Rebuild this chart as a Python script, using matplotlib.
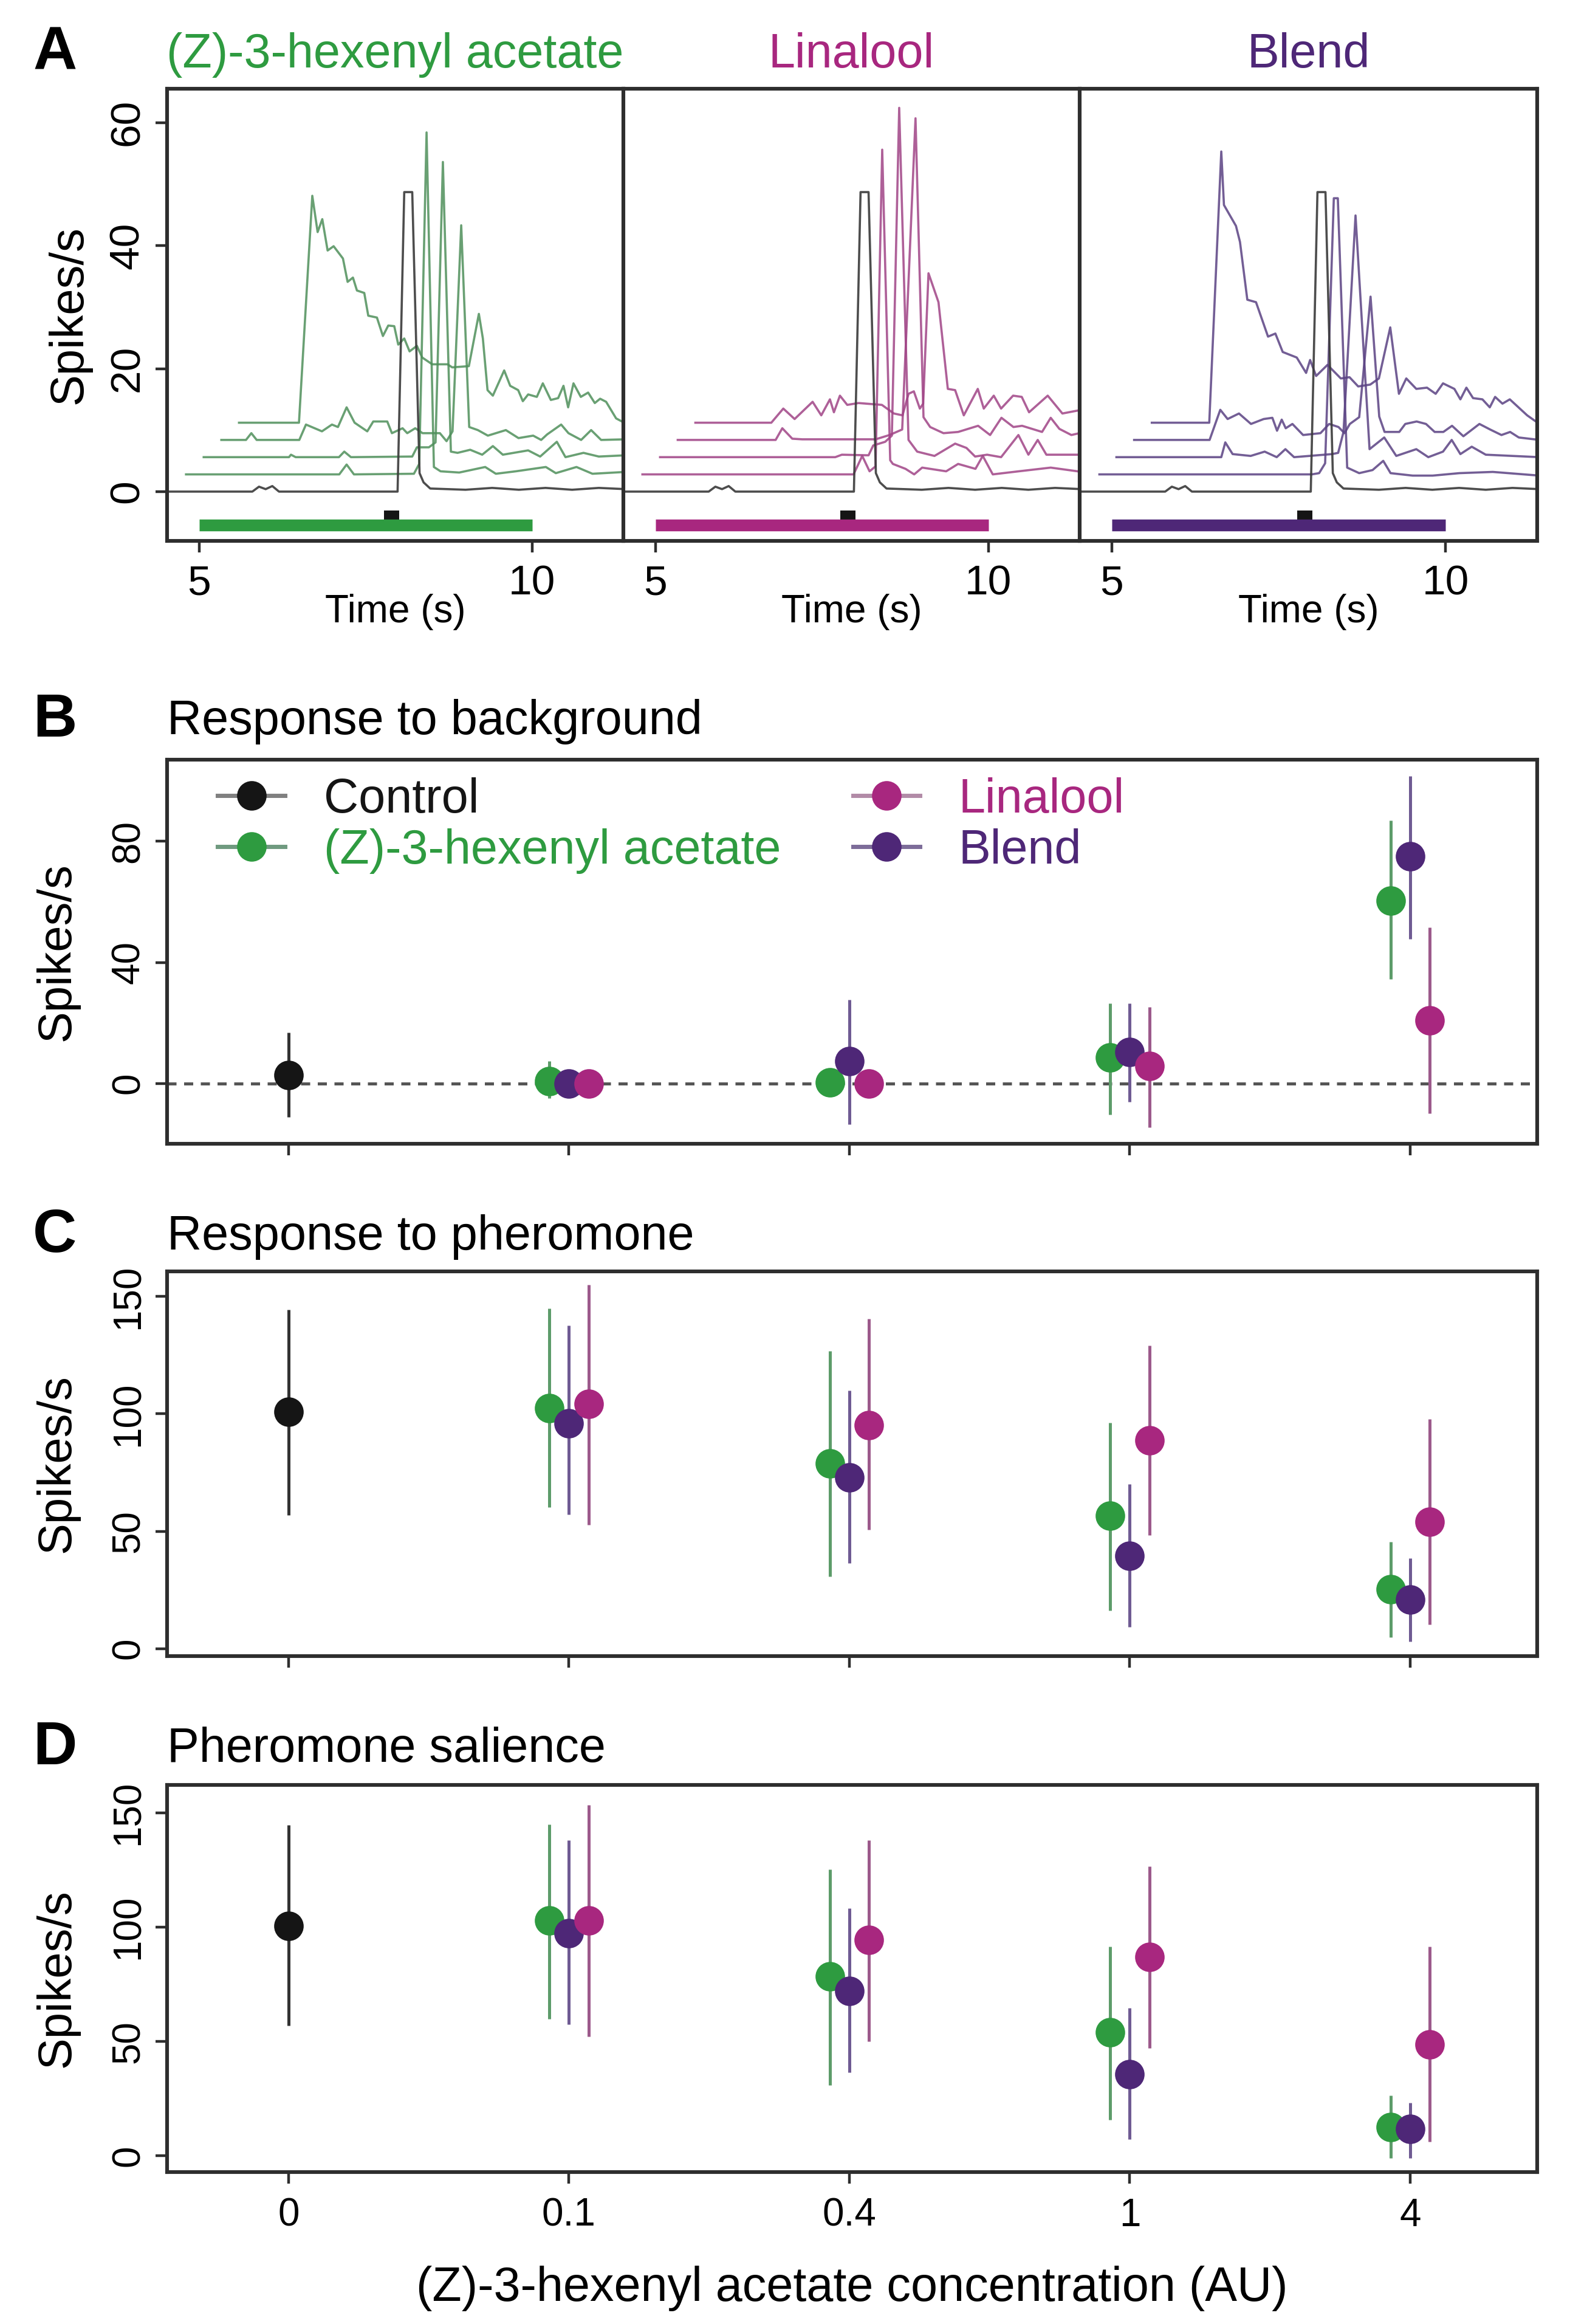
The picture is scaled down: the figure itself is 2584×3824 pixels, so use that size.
import numpy as np
import matplotlib
matplotlib.use('Agg')
import matplotlib.pyplot as plt
from matplotlib import font_manager
from matplotlib.lines import Line2D
from matplotlib.patches import Rectangle

plt.rcParams['font.family'] = ['Liberation Sans', 'DejaVu Sans']

# narrow face for the tick numbers, if one is installed
_names = {f.name for f in font_manager.fontManager.ttflist}
TICK_FONT = 'Liberation Sans'
for cand in ['Liberation Sans Narrow', 'DejaVu Sans Condensed']:
    if cand in _names:
        TICK_FONT = cand
        break

# ---- panel A: firing-rate traces (raw time in s, raw rate in spikes/s) ----
# control (pheromone only) trace, same in every sub-panel
ctrl_t = [4.50, 5.80, 5.90, 6.00, 6.10, 6.20, 7.98, 8.08, 8.20, 8.31, 8.37, 8.47, 9.00, 9.40, 9.80, 10.20, 10.60, 11.00, 11.40]
ctrl_v = [0.0, 0.0, 0.8, 0.4, 0.9, 0.0, 0.0, 48.7, 48.7, 3.0, 1.5, 0.5, 0.3, 0.6, 0.3, 0.6, 0.3, 0.6, 0.4]

# (Z)-3-hexenyl acetate background, levels 1..4 (0.1, 0.4, 1, 4 AU)
zha1_t = [4.54, 6.84, 6.95, 7.06, 7.96, 8.04, 8.15, 8.26, 8.36, 8.64, 9.03, 9.19, 9.49, 9.94, 10.09, 10.40, 10.64, 11.14]
zha1_v = [0.0, 0.0, 1.6, 0.0, 0.1, 1.7, 55.6, 1.2, 0.5, 0.3, 1.2, 0.1, 0.5, 1.2, 0.2, 1.2, 0.1, 0.4]
zha2_t = [4.54, 5.82, 5.85, 5.92, 6.57, 6.65, 6.75, 7.67, 7.74, 7.92, 8.02, 8.13, 8.25, 8.35, 8.54, 8.72, 8.88, 9.03, 9.41, 9.59, 9.84, 9.97, 10.24, 10.47, 10.87]
zha2_v = [0.0, 0.0, 0.4, 0.0, 0.0, 0.9, 0.0, 0.1, 1.6, 1.6, 2.4, 48.0, 0.9, 0.7, 1.2, 0.4, 1.8, 0.4, 1.1, 0.1, 2.5, 0.0, 0.7, 0.1, 0.3]
zha3_t = [4.54, 4.91, 4.99, 5.07, 5.71, 5.81, 6.05, 6.20, 6.29, 6.42, 6.54, 6.73, 6.82, 7.03, 7.10, 7.26, 7.33, 7.45, 7.56, 7.82,
          7.92, 8.01, 8.14, 8.26, 8.39, 8.54, 8.81, 9.00, 9.22, 9.34, 9.43, 9.64, 9.75, 9.94, 10.09, 10.24, 10.61]
zha3_v = [0.0, 0.0, 1.1, 0.0, 0.0, 2.5, 1.4, 2.5, 2.1, 5.3, 2.8, 1.4, 3.0, 3.0, 1.1, 1.9, 1.1, 1.9, 1.1, 1.1,
          -0.2, 1.4, 34.9, 2.1, 1.6, 0.7, 1.6, 0.3, 0.7, 0.0, 0.9, 2.5, 1.1, 0.0, 1.6, 0.0, 0.1]
zha4_t = [4.54, 5.44, 5.64, 5.72, 5.79, 5.87, 5.96, 6.10, 6.17, 6.25, 6.31, 6.42, 6.48, 6.61, 6.70, 6.78, 6.87, 6.93, 7.02, 7.10,
          7.21, 7.29, 7.44, 7.67, 7.74, 7.99, 8.14, 8.20, 8.27, 8.35, 8.52, 8.61, 8.73, 8.80, 8.88, 9.01, 9.10, 9.22, 9.33, 9.41,
          9.48, 9.56, 9.67, 9.78, 9.88, 9.96, 10.05, 10.20, 10.34]
zha4_v = [0.0, 0.0, 36.9, 31.0, 33.1, 28.0, 28.7, 26.7, 22.9, 23.6, 21.5, 21.1, 17.4, 17.1, 14.1, 15.8, 15.7, 12.7, 13.7, 11.6,
          12.5, 10.6, 9.5, 9.5, 9.0, 9.2, 17.7, 13.7, 5.3, 4.4, 8.5, 6.0, 5.3, 3.5, 4.6, 4.2, 6.4, 3.7, 4.0, 6.0,
          2.5, 6.4, 4.2, 4.9, 3.2, 3.9, 3.4, 0.7, -0.1]

# Linalool background
lin1_t = [4.54, 7.71, 7.84, 7.95, 8.04, 8.14, 8.26, 8.30, 8.49, 8.62, 8.74, 9.10, 9.28, 9.54, 9.65, 9.80, 10.19, 10.67, 11.14]
lin1_v = [0.0, 0.0, 3.0, 0.5, 1.3, 52.8, 2.3, 1.7, 0.9, 0.0, 1.1, 0.5, 1.7, 0.9, 3.0, 0.0, 0.5, 1.1, 0.4]
lin2_t = [4.54, 7.17, 7.27, 7.67, 7.74, 7.92, 8.02, 8.13, 8.27, 8.40, 8.66, 8.97, 9.14, 9.27, 9.45, 9.66, 9.92, 10.07, 10.21, 10.34, 10.87]
lin2_v = [0.0, 0.0, 0.4, 0.3, 1.9, 2.5, 3.5, 56.8, 2.8, 0.9, 0.2, 2.2, 1.5, 0.1, 0.4, 0.0, 3.6, 0.4, 2.8, 0.4, 0.4]
lin3_t = [4.54, 6.01, 6.11, 6.26, 6.41, 7.51, 7.72, 7.91, 8.11, 8.23, 8.33, 8.53, 8.75, 9.05, 9.23, 9.40, 9.58, 9.71, 10.01, 10.14, 10.27, 10.45, 10.61]
lin3_v = [0.0, 0.0, 1.9, 0.2, 0.1, 0.1, 0.8, 1.7, 52.3, 3.7, 2.1, 1.1, 1.3, 2.3, 0.8, 3.6, 2.1, 2.3, 1.3, 3.6, 1.8, 0.8, 1.2]
lin4_t = [4.54, 5.68, 5.86, 6.03, 6.30, 6.43, 6.56, 6.62, 6.71, 6.82, 6.99, 7.34, 7.52, 7.65, 7.74, 7.82, 7.91, 7.96, 8.04, 8.19,
          8.33, 8.44, 8.57, 8.78, 8.87, 9.02, 9.13, 9.31, 9.44, 9.55, 9.83, 10.05, 10.34]
lin4_v = [0.0, 0.0, 2.3, 0.6, 3.4, 1.2, 3.8, 1.7, 4.4, 2.9, 3.2, 2.9, 1.5, 1.2, 4.7, 5.1, 2.3, 3.1, 24.3, 19.6,
          5.5, 5.3, 1.2, 5.5, 2.3, 4.4, 2.3, 4.4, 4.2, 1.7, 4.4, 1.5, 2.1]

# Blend background
blend1_t = [4.55, 7.73, 7.84, 7.93, 8.06, 8.12, 8.26, 8.44, 8.64, 8.80, 8.91, 9.24, 9.54, 9.94, 10.44, 11.14]
blend1_v = [0.0, 0.0, 0.2, 1.8, 44.9, 44.9, 1.1, 0.2, 0.7, 2.2, 0.2, -0.2, -0.2, 0.2, 0.4, -0.2]
blend2_t = [4.54, 6.11, 6.17, 6.28, 6.55, 6.76, 6.94, 7.07, 7.20, 7.77, 7.86, 7.94, 8.12, 8.33, 8.55, 8.73, 9.03, 9.21, 9.43, 9.56, 9.69, 9.86, 10.07, 10.87]
blend2_v = [0.0, 0.0, 2.4, 0.5, 0.2, 0.9, 0.0, 1.3, 0.0, 0.5, 0.7, 4.1, 39.3, 1.3, 3.2, 0.2, 1.3, 0.0, 0.9, 2.8, 0.5, 1.7, 0.4, 0.0]
blend3_t = [4.54, 5.67, 5.83, 5.94, 6.11, 6.29, 6.48, 6.61, 6.68, 6.75, 6.81, 6.91, 7.07, 7.33, 7.46, 7.60, 7.69, 7.77, 7.91, 8.08,
            8.21, 8.29, 8.51, 8.60, 8.77, 8.91, 9.04, 9.17, 9.30, 9.47, 9.71, 9.87, 10.04, 10.17, 10.30, 10.61]
blend3_v = [0.0, 0.0, 4.9, 3.4, 4.3, 2.6, 3.4, 3.6, 1.5, 3.3, 1.9, 2.6, 0.8, 1.1, 2.6, 2.1, 1.1, 2.6, 3.7, 23.3,
            3.8, 1.3, 1.3, 2.6, 3.0, 2.6, 1.3, 1.3, 2.3, 0.6, 2.6, 1.7, 0.8, 1.3, 0.4, 0.0]
blend4_t = [4.54, 5.40, 5.58, 5.62, 5.80, 5.86, 5.97, 6.10, 6.28, 6.39, 6.50, 6.71, 6.85, 6.91, 7.00, 7.17, 7.37, 7.50, 7.63, 7.81,
            7.94, 8.11, 8.24, 8.35, 8.50, 8.66, 8.79, 8.90, 9.07, 9.16, 9.25, 9.35, 9.49, 9.60, 9.68, 9.79, 9.90, 10.03, 10.16, 10.29, 10.40]
blend4_v = [0.0, 0.0, 44.1, 35.4, 32.0, 29.4, 20.0, 19.6, 14.0, 14.5, 11.5, 10.6, 8.1, 10.2, 7.6, 9.4, 7.2, 7.4, 5.9, 6.2,
            7.2, 15.5, 4.7, 7.2, 5.5, 5.7, 4.7, 6.4, 5.5, 3.8, 5.7, 4.0, 3.8, 2.5, 4.2, 3.1, 3.8, 2.5, 1.2, 0.2, 0.0]

# stimulus timing (s)
odor_on, odor_off = 5.0, 10.0
pulse_on, pulse_off = 7.78, 8.0

# ---- panels B-D: mean and range (spikes/s) ----
conc_labels = ['0', '0.1', '0.4', '1', '4']

bg_ctrl, bg_ctrl_lo, bg_ctrl_hi = [2.7], [-11.2], [16.8]
bg_zha = [0.8, 0.3, 8.5, 60.5]
bg_zha_lo = [-4.9, -3.0, -10.3, 34.5]
bg_zha_hi = [7.4, 3.5, 26.4, 87.0]
bg_lin = [0.0, 0.0, 5.7, 20.8]
bg_lin_lo = [-2.0, -2.0, -14.5, -10.0]
bg_lin_hi = [2.0, 2.0, 25.3, 51.5]
bg_blend = [0.0, 7.3, 10.3, 75.0]
bg_blend_lo = [-2.0, -13.6, -6.2, 47.8]
bg_blend_hi = [2.0, 27.7, 26.4, 101.6]

ph_ctrl, ph_ctrl_lo, ph_ctrl_hi = [101.0], [57.0], [144.5]
ph_zha = [102.4, 79.0, 56.5, 25.4]
ph_zha_lo = [60.3, 30.6, 16.2, 4.7]
ph_zha_hi = [145.0, 126.7, 96.3, 45.5]
ph_lin = [104.2, 95.3, 88.7, 54.0]
ph_lin_lo = [52.7, 50.6, 48.4, 10.2]
ph_lin_hi = [155.0, 140.5, 129.2, 97.9]
ph_blend = [96.0, 73.0, 39.5, 20.8]
ph_blend_lo = [57.2, 36.4, 9.2, 3.1]
ph_blend_hi = [137.7, 110.0, 70.2, 38.4]

sal_ctrl, sal_ctrl_lo, sal_ctrl_hi = [100.6], [56.9], [144.8]
sal_zha = [103.0, 78.6, 54.0, 12.5]
sal_zha_lo = [60.0, 31.0, 15.7, -0.9]
sal_zha_hi = [145.0, 125.3, 91.4, 26.4]
sal_lin = [103.0, 94.5, 87.0, 48.7]
sal_lin_lo = [52.2, 50.0, 47.0, 6.1]
sal_lin_hi = [153.5, 138.0, 126.5, 91.4]
sal_blend = [97.4, 72.2, 35.7, 11.7]
sal_blend_lo = [57.4, 36.5, 7.3, -0.9]
sal_blend_hi = [138.0, 108.4, 64.7, 23.1]

# ---- styles ----
BLACK = '#151515'
GREEN = '#2e9b40'
MAGENTA = '#a8277f'
PURPLE = '#4e2777'
SPINE = '#2e2e2e'

trace_col = {'zha': '#4f8f5b', 'lin': '#a04486', 'blend': '#5a4283'}
err_col = {'ctrl': '#333333', 'zha': '#5d9c6a', 'lin': '#9c5a8b', 'blend': '#6f5b93'}
hand_col = {'ctrl': '#808080', 'zha': '#6f9a7f', 'lin': '#b28ba7', 'blend': '#7d6c99'}

dx, dy = 0.265, 2.8       # waterfall shift per concentration level
grp_off = {'zha': -0.07, 'blend': 0.0, 'lin': 0.07}

fig = plt.figure(figsize=(12.92, 19.12), dpi=200)


def style_box(ax):
    for sp in ax.spines.values():
        sp.set_linewidth(2.2)
        sp.set_color(SPINE)


def tick_font(labels, size):
    for lab in labels:
        lab.set_family(TICK_FONT)
        lab.set_fontsize(size)


# ---------------- Panel A ----------------
a_lefts = [0.1064, 0.3971, 0.6877]
a_widths = [0.2907, 0.2906, 0.2914]
a_titles = ['(Z)-3-hexenyl acetate', 'Linalool', 'Blend']
a_cols = [GREEN, MAGENTA, PURPLE]
a_keys = ['zha', 'lin', 'blend']
a_traces = [
    [(zha1_t, zha1_v), (zha2_t, zha2_v), (zha3_t, zha3_v), (zha4_t, zha4_v)],
    [(lin1_t, lin1_v), (lin2_t, lin2_v), (lin3_t, lin3_v), (lin4_t, lin4_v)],
    [(blend1_t, blend1_v), (blend2_t, blend2_v), (blend3_t, blend3_v), (blend4_t, blend4_v)],
]

for j in range(3):
    ax = fig.add_axes([a_lefts[j], 0.7673, a_widths[j], 0.1945])
    for k in range(4, 0, -1):
        t, v = a_traces[j][k - 1]
        ax.plot(np.array(t) + k * dx, np.array(v) + k * dy, color=trace_col[a_keys[j]],
                lw=1.3, alpha=0.85)
    ax.plot(ctrl_t, ctrl_v, color='#3a3a3a', lw=1.3, alpha=0.9)

    # odour bar and pheromone pulse
    ax.plot([odor_on, odor_off], [-5.4, -5.4], color=a_cols[j], lw=7, solid_capstyle='butt')
    ax.add_patch(Rectangle((pulse_on, -5.0), pulse_off - pulse_on, 1.9, color=BLACK, lw=0))

    ax.set_xlim(4.52, 11.37)
    ax.set_ylim(-8.0, 65.5)
    ax.set_xticks([5, 10])
    ax.set_xticklabels(['5', '10'])
    ax.tick_params(axis='x', length=7, width=1.6, pad=7, color=SPINE)
    tick_font(ax.get_xticklabels(), 25)
    if j == 0:
        ax.set_yticks([0, 20, 40, 60])
        ax.tick_params(axis='y', length=7, width=1.6, pad=5, color=SPINE)
        tick_font(ax.get_yticklabels(), 25)
        for lab in ax.get_yticklabels():
            lab.set_rotation(90)
            lab.set_va('center')
    else:
        ax.set_yticks([])
    style_box(ax)
    ax.text(0.5, -0.18, 'Time (s)', transform=ax.transAxes, ha='center', va='baseline', fontsize=23)
    fig.text(a_lefts[j] + a_widths[j] / 2, 0.971, a_titles[j], ha='center', va='baseline',
             fontsize=28.5, color=a_cols[j])

fig.text(0.0441, 0.8645, 'Spikes/s', rotation=90, ha='center', va='center', fontsize=28)


# ---------------- Panels B-D ----------------
def dot_panel(rect, ctrl, zha, lin, blend, ylim, yticks, show_xlabels):
    ax = fig.add_axes(rect)
    xpos = np.arange(5)
    c_m, c_lo, c_hi = ctrl
    ax.vlines([0], c_lo, c_hi, color=err_col['ctrl'], lw=1.8)
    ax.plot([0], c_m, 'o', color=BLACK, ms=17.5, mew=0)
    for key, col, (m, lo, hi) in [('zha', GREEN, zha), ('blend', PURPLE, blend), ('lin', MAGENTA, lin)]:
        x = xpos[1:] + grp_off[key]
        ax.vlines(x, lo, hi, color=err_col[key], lw=1.8)
        ax.plot(x, m, 'o', color=col, ms=17.5, mew=0)
    ax.set_xlim(-0.433, 4.453)
    ax.set_ylim(*ylim)
    ax.set_xticks(xpos)
    ax.set_xticklabels(conc_labels if show_xlabels else [])
    ax.set_yticks(yticks)
    ax.tick_params(axis='both', length=7, width=1.6, color=SPINE)
    ax.tick_params(axis='x', pad=8)
    ax.tick_params(axis='y', pad=5)
    tick_font(ax.get_xticklabels(), 23)
    tick_font(ax.get_yticklabels(), 23)
    for lab in ax.get_yticklabels():
        lab.set_rotation(90)
        lab.set_va('center')
    style_box(ax)
    fig.text(0.0364, rect[1] + rect[3] / 2, 'Spikes/s', rotation=90, ha='center', va='center', fontsize=28)
    return ax


axB = dot_panel([0.1064, 0.5078, 0.8727, 0.1653],
                (bg_ctrl, bg_ctrl_lo, bg_ctrl_hi), (bg_zha, bg_zha_lo, bg_zha_hi),
                (bg_lin, bg_lin_lo, bg_lin_hi), (bg_blend, bg_blend_lo, bg_blend_hi),
                (-20, 107), [0, 40, 80], False)
axB.axhline(0, color='#555555', lw=1.8, ls=(0, (3, 2.5)), zorder=0.5)

axC = dot_panel([0.1064, 0.2874, 0.8727, 0.1655],
                (ph_ctrl, ph_ctrl_lo, ph_ctrl_hi), (ph_zha, ph_zha_lo, ph_zha_hi),
                (ph_lin, ph_lin_lo, ph_lin_hi), (ph_blend, ph_blend_lo, ph_blend_hi),
                (-3.2, 160.7), [0, 50, 100, 150], False)

axD = dot_panel([0.1064, 0.0654, 0.8727, 0.1666],
                (sal_ctrl, sal_ctrl_lo, sal_ctrl_hi), (sal_zha, sal_zha_lo, sal_zha_hi),
                (sal_lin, sal_lin_lo, sal_lin_hi), (sal_blend, sal_blend_lo, sal_blend_hi),
                (-7.1, 162.3), [0, 50, 100, 150], True)
axD.text(0.5, -0.333, '(Z)-3-hexenyl acetate concentration (AU)', transform=axD.transAxes,
         ha='center', va='baseline', fontsize=28.5)

# legend in B
leg_labels = ['Control', '(Z)-3-hexenyl acetate', 'Linalool', 'Blend']
leg_keys = ['ctrl', 'zha', 'lin', 'blend']
leg_cols = [BLACK, GREEN, MAGENTA, PURPLE]
handles = [Line2D([], [], color=hand_col[k], lw=2.5, marker='o', ms=17.5, mfc=c, mec=c, mew=0)
           for k, c in zip(leg_keys, leg_cols)]
leg = axB.legend(handles, leg_labels, loc='upper left', bbox_to_anchor=(0.037, 0.955), ncol=2,
                 frameon=False, fontsize=28.5, handlelength=1.4, handletextpad=0.8,
                 columnspacing=1.5, labelspacing=0.12, borderaxespad=0, borderpad=0)
for txt, c in zip(leg.get_texts(), leg_cols):
    txt.set_color(c)

# panel letters and titles
for letter, yb in [('A', 0.970), ('B', 0.683), ('C', 0.4613), ('D', 0.2408)]:
    fig.text(0.021, yb, letter, fontsize=36, fontweight='bold', va='baseline')
fig.text(0.1064, 0.684, 'Response to background', fontsize=28.5, va='baseline')
fig.text(0.1064, 0.4623, 'Response to pheromone', fontsize=28.5, va='baseline')
fig.text(0.1064, 0.2418, 'Pheromone salience', fontsize=28.5, va='baseline')

fig.savefig('out.png', dpi=200)
